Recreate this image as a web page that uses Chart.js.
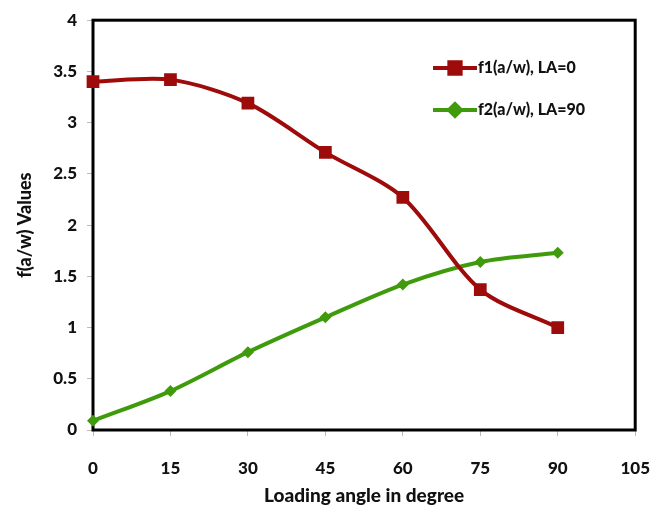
<!DOCTYPE html>
<html>
<head>
<meta charset="utf-8">
<script src="https://cdn.jsdelivr.net/npm/chart.js@4"></script>
<style>
  html, body { margin: 0; padding: 0; background: #fff; }
  #wrap { width: 672px; height: 516px; position: relative; }
</style>
</head>
<body>
<div id="wrap"><canvas id="chart" width="672" height="516"></canvas></div>
<script>
const angles = [0, 15, 30, 45, 60, 75, 90];
const f1Values = [3.40, 3.42, 3.19, 2.71, 2.27, 1.37, 1.00];
const f2Values = [0.09, 0.38, 0.76, 1.10, 1.42, 1.64, 1.73];
const seriesLabels = ['f1(a/w), LA=0', 'f2(a/w), LA=90'];

const RED = '#9e0b0b';
const GREEN = '#3f9b0b';
const FONT = 'Lato, "Open Sans", sans-serif';

// black frame round the plot area, under the lines
const frame = {
  id: 'frame',
  beforeDatasetsDraw(chart) {
    const a = chart.chartArea;
    const ctx = chart.ctx;
    ctx.save();
    ctx.strokeStyle = '#000';
    ctx.lineWidth = 3;
    ctx.strokeRect(a.left, a.top, a.right - a.left, a.bottom - a.top);
    ctx.restore();
  }
};

// legend drawn inside the plot, top right
const innerLegend = {
  id: 'innerLegend',
  afterDraw(chart) {
    const ctx = chart.ctx;
    ctx.save();
    ctx.font = '900 16px ' + FONT;
    ctx.textBaseline = 'middle';
    chart.data.datasets.forEach((ds, i) => {
      const y = 68 + i * 42;
      ctx.strokeStyle = ds.borderColor;
      ctx.lineWidth = 4;
      ctx.beginPath();
      ctx.moveTo(433, y);
      ctx.lineTo(477, y);
      ctx.stroke();
      Chart.helpers.drawPoint(ctx, {
        pointStyle: ds.pointStyle,
        radius: ds.pointStyle === 'rect' ? 8 : 6,
        rotation: 0,
        borderWidth: 1
      }, 455, y);
      ctx.fillStyle = ds.borderColor;
      ctx.fill();
      ctx.fillStyle = '#111';
      ctx.fillText(ds.label, 478, y);
    });
    ctx.restore();
  }
};

function pts(values) {
  return angles.map((a, i) => ({ x: a, y: values[i] }));
}

new Chart(document.getElementById('chart'), {
  type: 'line',
  data: {
    datasets: [
      {
        label: seriesLabels[0],
        data: pts(f1Values),
        borderColor: RED,
        backgroundColor: RED,
        borderWidth: 4,
        pointStyle: 'rect',
        pointRadius: 9,
        pointBorderWidth: 0,
        tension: 0.3,
        clip: 12
      },
      {
        label: seriesLabels[1],
        data: pts(f2Values),
        borderColor: GREEN,
        backgroundColor: GREEN,
        borderWidth: 4,
        pointStyle: 'rectRot',
        pointRadius: 6,
        pointBorderWidth: 0,
        tension: 0.3,
        clip: 12
      }
    ]
  },
  options: {
    responsive: false,
    animation: false,
    layout: { padding: { top: 14, right: 27, left: 0, bottom: 0 } },
    plugins: {
      legend: { display: false },
      tooltip: { enabled: false }
    },
    scales: {
      x: {
        type: 'linear',
        min: 0,
        max: 105,
        afterFit(scale) { scale.height = 86; },
        ticks: {
          stepSize: 15,
          autoSkip: false,
          maxRotation: 0,
          padding: 22,
          color: '#111',
          font: { family: FONT, size: 17, weight: '900' }
        },
        grid: { drawOnChartArea: false, drawTicks: true, tickLength: 6, color: '#bbb' },
        border: { display: false },
        title: {
          display: true,
          text: 'Loading angle in degree',
          color: '#111',
          padding: { top: 2, bottom: 9 },
          font: { family: FONT, size: 19, weight: '900' }
        }
      },
      y: {
        min: 0,
        max: 4,
        afterFit(scale) { scale.width = 93; },
        ticks: {
          stepSize: 0.5,
          padding: 10,
          color: '#111',
          font: { family: FONT, size: 17, weight: '900' },
          callback: v => String(v)
        },
        grid: { drawOnChartArea: false, drawTicks: true, tickLength: 6, color: '#bbb' },
        border: { display: false },
        title: {
          display: true,
          text: 'f(a/w) Values',
          color: '#111',
          padding: { top: 14, bottom: 4 },
          font: { family: FONT, size: 18, weight: '900' }
        }
      }
    }
  },
  plugins: [frame, innerLegend]
});
</script>
</body>
</html>
